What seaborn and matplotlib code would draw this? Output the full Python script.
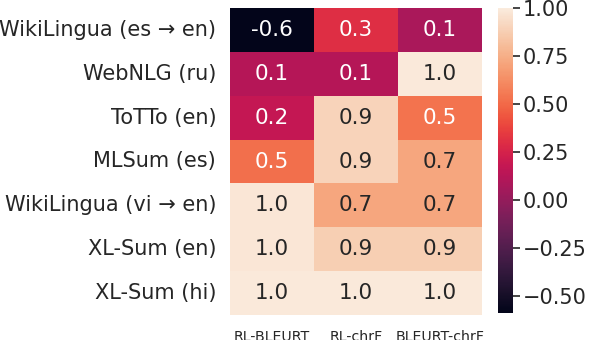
import numpy as np
import pandas as pd
import seaborn as sns

from matplotlib import pyplot as plt

DATASETS = ['WikiLingua (es → en)', 'WebNLG (ru)', 'ToTTo (en)', 'MLSum (es)',
            'WikiLingua (vi → en)', 'XL-Sum (en)', 'XL-Sum (hi)']
PAIRS = ['RL-BLEURT', 'RL-chrF', 'BLEURT-chrF']

RL_BLEURT = [-0.59, 0.12, 0.18, 0.52, 0.98, 0.98, 0.99]
RL_CHRF = [0.30, 0.12, 0.90, 0.90, 0.72, 0.88, 0.99]
BLEURT_CHRF = [0.08, 0.99, 0.53, 0.72, 0.72, 0.88, 0.99]


def main():
    sns.set_theme(style='white')
    plt.rcParams['font.family'] = ['DejaVu Sans']

    df = pd.DataFrame({'RL-BLEURT': RL_BLEURT,
                       'RL-chrF': RL_CHRF,
                       'BLEURT-chrF': BLEURT_CHRF},
                      index=DATASETS)[PAIRS]

    fig = plt.figure(figsize=(5.9, 3.4), dpi=100)
    ax = fig.add_axes([0.39, 0.074, 0.427, 0.902])
    cax = fig.add_axes([0.844, 0.079, 0.026, 0.897])

    sns.heatmap(df, ax=ax, cbar_ax=cax, cmap='rocket', vmin=-0.59, vmax=1.0,
                annot=True, fmt='.1f', annot_kws={'fontsize': 15.5})

    ax.tick_params(axis='y', labelsize=15, length=0, pad=10, labelcolor='#262626')
    ax.tick_params(axis='x', labelsize=10.2, length=0, pad=11, labelcolor='#262626')
    plt.setp(ax.get_yticklabels(), rotation=0)
    plt.setp(ax.get_xticklabels(), rotation=0)

    cax.tick_params(axis='y', right=True, length=5, width=1.2, labelsize=15,
                    color='#262626', labelcolor='#262626', pad=2)
    cax.set_yticks([-0.5, -0.25, 0.0, 0.25, 0.5, 0.75, 1.0])
    for s in cax.spines.values():
        s.set_visible(False)

    fig.savefig('out.png', dpi=100)


if __name__ == '__main__':
    main()
